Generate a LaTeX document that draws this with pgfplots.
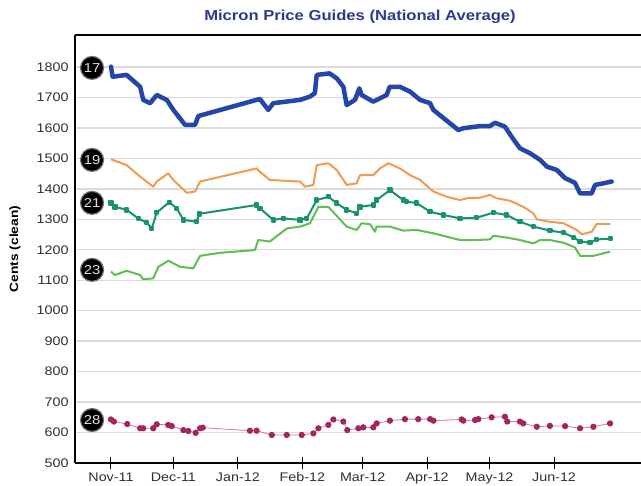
\documentclass[border=0pt]{standalone}
\usepackage{fontspec}
\setmainfont{Liberation Sans}[FakeStretch=1.15]
\usepackage{pgfplots}
\pgfplotsset{compat=1.18}
\definecolor{titleblue}{RGB}{45,57,140}
\definecolor{c17}{RGB}{36,70,168}
\definecolor{c19}{RGB}{243,154,79}
\definecolor{c21}{RGB}{23,148,110}
\definecolor{c23}{RGB}{92,191,79}
\definecolor{c28}{RGB}{163,36,94}
\begin{document}
\begin{tikzpicture}
\begin{axis}[
  scale only axis, width=566bp, height=428bp,
  xmin=-17.3, xmax=254.8, ymin=500, ymax=1905,
  axis x line=box, axis y line=left,
  axis line style={-, line width=2.6bp, black},
  xtick={0,30,61,92,121,152,182,213},
  xticklabels={Nov-11,Dec-11,Jan-12,Feb-12,Mar-12,Apr-12,May-12,Jun-12},
  xtick pos=bottom,
  major tick length=12bp,
  x tick style={black, line width=1bp},
  tick align=center,
  ytick={500,600,...,1800},
  y tick style={draw=none},
  ymajorgrids,
  grid style={color=black!14, line width=1.4bp},
  /pgf/number format/assume math mode=true,
  /pgf/number format/1000 sep={},
  tick label style={font=\fontsize{12.5}{14}\selectfont, text=black!82},
  yticklabel style={anchor=east, xshift=3bp},
  title={Micron Price Guides (National Average)},
  title style={font=\fontsize{14.5}{16}\selectfont\bfseries, text=titleblue, at={(axis description cs:0.5035,1)}, anchor=base, yshift=9bp},
  ylabel={Cents (clean)},
  ylabel style={font=\fontsize{12}{14}\selectfont\bfseries, at={(axis description cs:0,0.5)}, anchor=center, yshift=60bp},
  clip=false,
]
\addplot[c17, line width=4.5bp, line join=round, line cap=round] table {
0 1801
0.8 1768
7.5 1774
14 1735
15.5 1692
18.8 1681
22 1708
26.8 1692
30 1659
35.6 1610
40.4 1610
42 1639
71.6 1695
75.6 1659
78 1681
90.9 1692
95.7 1703
98 1714
98.9 1774
105 1779
108.5 1763
111.7 1735
113.3 1675
117.3 1692
119.4 1730
120.5 1708
126.1 1686
132.5 1708
134 1735
138.9 1735
143.8 1719
148.6 1692
153.4 1681
155 1659
167 1593
169.4 1599
177.4 1606
182.2 1606
184.6 1617
189.4 1604
192.6 1571
196.6 1533
201.4 1517
206.3 1495
209.5 1473
214.3 1462
218.3 1435
223 1420
225.5 1385
231.1 1385
232.7 1413
236.7 1418
240.7 1424
};
\addplot[c19, line width=2bp, line join=round] table {
0 1497
7.5 1478
14 1440
20.3 1407
22 1424
27.5 1451
30 1429
36.4 1387
40.4 1391
42.8 1424
70 1467
71.6 1456
76.4 1429
90.9 1424
93.3 1407
97.3 1413
98.9 1478
104.5 1484
108.5 1462
113.3 1413
118.1 1418
119.7 1445
126.1 1445
129.3 1467
133.3 1484
138.9 1467
143.8 1445
148.6 1429
155 1391
161.4 1374
167.8 1363
171 1369
177.4 1371
182.2 1380
185.4 1369
191.8 1361
198.2 1341
203 1320
204.7 1300
211 1292
217.5 1287
223.9 1265
226.3 1251
231.1 1259
233.5 1285
239.9 1285
};
\addplot[c21, line width=2bp, line join=round, mark=square*, mark size=1.7bp, mark options={solid}] table {
0 1353
1.9 1341
7.5 1331
13.1 1303
17.2 1289
19.6 1270
22 1322
28 1356
31.6 1336
34.8 1298
41.2 1292
42.5 1318
70 1347
71.6 1336
78 1298
82.8 1303
90.9 1298
94.1 1303
98.9 1363
104.5 1374
108.5 1353
113.3 1331
118.1 1320
119.7 1341
126.1 1347
127.7 1363
134.1 1396
140.5 1363
142.2 1358
147 1353
153.4 1325
159.8 1314
167.8 1303
175.8 1305
183.8 1322
190.2 1314
196.6 1292
203 1276
211 1263
217.5 1256
222.3 1241
225.5 1227
230.3 1223
233.5 1234
240 1236
};
\addplot[c23, line width=2bp, line join=round] table {
0 1128
1.9 1117
7.5 1131
14 1117
15.5 1103
20.3 1106
22.8 1144
27.6 1164
33.2 1144
39.6 1139
42.8 1180
52.4 1190
69.2 1199
70.8 1232
76.4 1227
84.5 1270
90.9 1276
95.7 1287
99.7 1341
104.5 1341
113.3 1276
118.1 1265
120.5 1287
124.5 1284
126.9 1259
127.7 1276
134.1 1276
140.5 1263
147 1265
155 1254
167.8 1232
175.8 1232
182.2 1234
183.8 1246
190.2 1240
196.6 1232
203 1221
206.3 1232
211 1232
217.5 1223
223 1208
225.5 1180
231.9 1180
240 1194
};
\addplot[c28!60, line width=0.8bp, mark=*, mark size=2.7bp, mark options={c28, fill=c28}] table {
0 643
1.4 636
7.8 628
14 614
15.5 614
20.3 614
22 627
27.5 625
29.2 621
34.8 608
37.2 605
40.7 599
42.8 614
44.1 616
66.8 606
70 606
77.3 592
84.5 592
91.7 592
97.3 597
99.7 614
104.5 625
106.9 643
111.7 636
113.6 608
118.9 614
121.3 617
126.1 617
127.7 630
134.1 639
141.3 644
147.7 644
153.4 644
155 639
168.6 643
169.4 639
175 641
176.6 644
183 650
189.4 652
190.5 636
196.6 636
198.2 630
204.7 619
211 622
218.3 621
225.5 614
231.9 619
239.9 630
};
\addplot[only marks, mark=*, mark size=11.5bp, mark options={fill=black, draw=black!55, line width=1.2bp},
  nodes near coords, point meta=explicit symbolic,
  nodes near coords align={anchor=center},
  every node near coord/.append style={anchor=center, text=black!12, font=\fontsize{13}{14}\selectfont}]
  table[meta=label] {
x y label
-9.1 1797 17
-9.1 1495 19
-9.1 1354 21
-9.1 1134 23
-9.1 641 28
};
\end{axis}
\pgfresetboundingbox
\path[use as bounding box] (-75bp,-23bp) rectangle (566bp,463bp);
\end{tikzpicture}
\end{document}
